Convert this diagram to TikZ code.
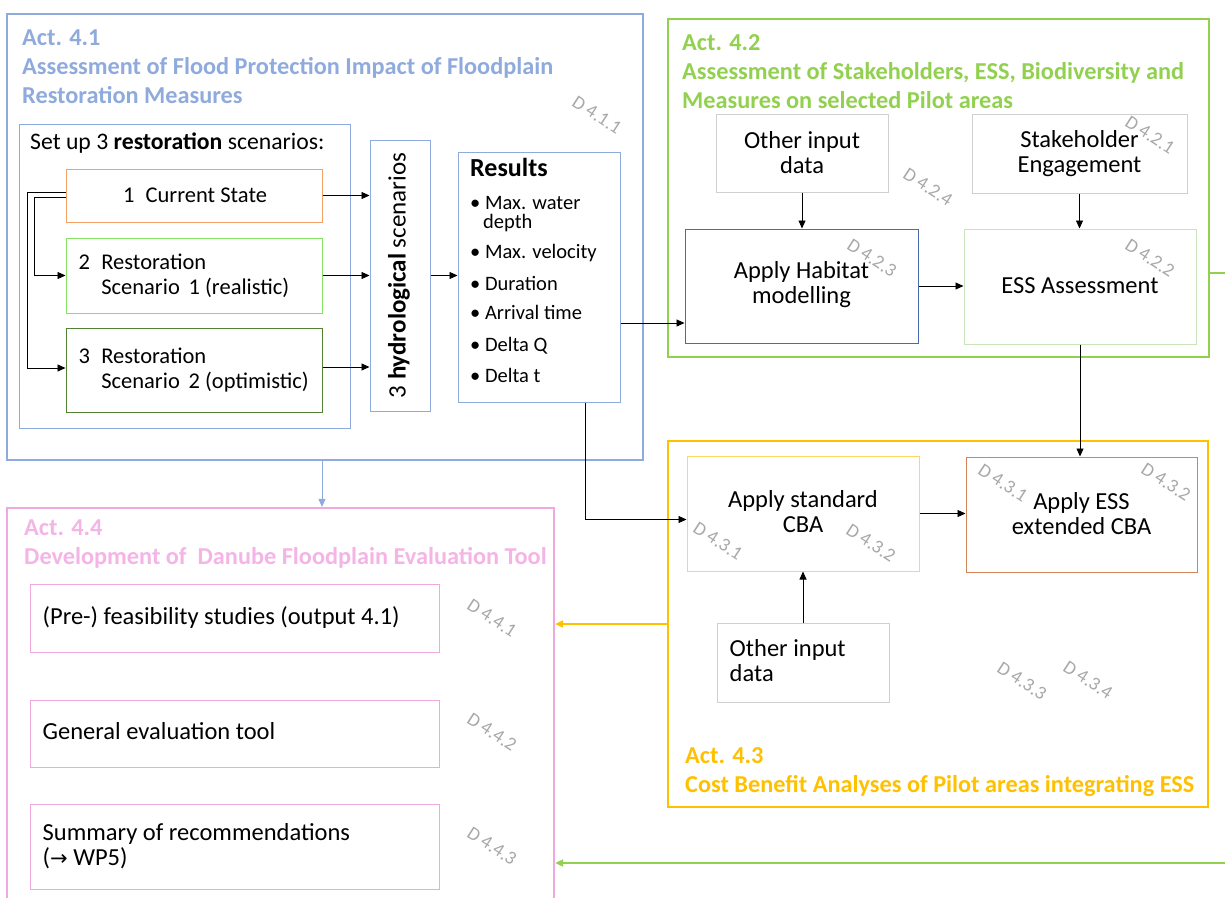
\documentclass[tikz,border=0pt]{standalone}
\usepackage{fontspec}
\setmainfont{Carlito}
\newfontfamily\symfont{DejaVu Sans}
\usetikzlibrary{arrows.meta}
\definecolor{blueA}{HTML}{8FAADC}
\definecolor{greenA}{HTML}{92D050}
\definecolor{orangeA}{HTML}{FFC000}
\definecolor{pinkA}{HTML}{F0A8DE}
\definecolor{pinkT}{HTML}{F4B4E6}
\definecolor{csOr}{HTML}{F4A165}
\definecolor{limeB}{HTML}{86E266}
\definecolor{dkGreen}{HTML}{548235}
\definecolor{habBlue}{HTML}{4A6AAE}
\definecolor{essGreen}{HTML}{C8E4B8}
\definecolor{cbaY}{HTML}{FFD75E}
\definecolor{ecbaO}{HTML}{D4845A}
\definecolor{grayB}{HTML}{D0D0D0}
\definecolor{dGray}{HTML}{A8A8A8}
\tikzset{
  actbox/.style={draw, line width=2.2pt, inner sep=0pt},
  ibox/.style={draw, line width=1pt, inner sep=0pt},
  txt/.style={inner sep=0pt, font=\fontsize{24.5}{25}\selectfont, align=center},
  stxt/.style={inner sep=0pt, font=\fontsize{22.5}{25}\selectfont, align=left},
  ttl/.style={inner sep=0pt, anchor=north west, align=left, font=\fontsize{24.3}{29}\selectfont\bfseries},
  dlab/.style={inner sep=0pt, text=dGray, font=\fontsize{19}{21}\selectfont, rotate=-33},
  itm/.style={inner sep=0pt, anchor=base west, font=\fontsize{20.5}{20}\selectfont},
  arr/.style={-{Triangle[length=8pt,width=7pt]}, line width=0.9pt},
}
\begin{document}
\begin{tikzpicture}[x=1pt,y=-1pt]
\useasboundingbox (0,0) rectangle (1225,897);
% ---------- Act 4.1 ----------
\node[actbox, draw=blueA, minimum width=636pt, minimum height=446pt] (a41) at (325,237) {};
\node[ttl, text=blueA] (t41) at (22,30) {Act. 4.1\\Assessment of Flood Protection Impact of Floodplain\\Restoration Measures};
\node[ibox, draw=blueA, minimum width=331pt, minimum height=304pt] (setb) at (184.5,276) {};
\node[txt, anchor=base west, font=\fontsize{23.7}{25}\selectfont] (sett) at (30,149) {Set up 3 \textbf{restoration} scenarios:};
\node[ibox, draw=csOr, minimum width=256pt, minimum height=53pt] (cs) at (194,195.5) {};
\node[stxt] at ([xshift=1pt]cs) {1\enspace Current State};
\node[ibox, draw=limeB, minimum width=256pt, minimum height=75pt] (s2) at (194,275.5) {};
\node[stxt, anchor=west] at ([xshift=13pt]s2.west) {2\enspace Restoration\\\phantom{2\enspace }Scenario\ \,1 (realistic)};
\node[ibox, draw=dkGreen, minimum width=256pt, minimum height=84pt] (s3) at (194,370) {};
\node[stxt, anchor=west] at ([xshift=13pt]s3.west) {3\enspace Restoration\\\phantom{3\enspace }Scenario\ \,2 (optimistic)};
\node[ibox, draw=blueA, minimum width=60pt, minimum height=271pt] (hyd) at (400,275.5) {};
\node[txt, rotate=90, font=\fontsize{25}{26}\selectfont] at ([xshift=-1pt]hyd) {3 \textbf{hydrological} scenarios};
\node[ibox, draw=blueA, minimum width=162pt, minimum height=250pt] (res) at (539,277) {};
\node[itm, font=\fontsize{26}{27}\selectfont\bfseries] at (470,176) {Results};
\node[itm] at (470,209) {\textbullet\ Max. water};
\node[itm] at (483,228) {depth};
\node[itm] at (470,258) {\textbullet\ Max. velocity};
\node[itm] at (470,290) {\textbullet\ Duration};
\node[itm] at (470,319) {\textbullet\ Arrival time};
\node[itm] at (470,351) {\textbullet\ Delta Q};
\node[itm] at (470,382) {\textbullet\ Delta t};
\node[dlab] at (597,115) {D 4.1.1};
% connectors in 4.1
\draw[arr] ([yshift=3pt]cs.west) -- ++(-38,0) |- ([yshift=2pt]s3.west);
\draw[arr] ([yshift=-2pt]cs.west) -- ++(-31.5,0) |- (s2.west);
\draw[arr] (cs.east) -- (cs.east -| hyd.west);
\draw[arr] (s2.east) -- (s2.east -| hyd.west);
\draw[arr] ([yshift=3pt]s3.east) -- ([yshift=3pt]s3.east -| hyd.west);
\draw[arr] (hyd.east) -- (hyd.east -| res.west);
% ---------- Act 4.2 ----------
\node[actbox, draw=greenA, minimum width=541pt, minimum height=338pt] (a42) at (938.5,188) {};
\node[ttl, text=greenA] (t42) at (682,34) {Act. 4.2\\Assessment of Stakeholders, ESS, Biodiversity and\\Measures on selected Pilot areas};
\node[ibox, draw=grayB, minimum width=172pt, minimum height=78pt] (oid) at (802,153) {};
\node[txt] at (oid) {Other input\\data};
\node[ibox, draw=grayB, minimum width=215pt, minimum height=79pt] (stk) at (1079.5,153.5) {};
\node[txt] at (stk) {Stakeholder\\Engagement};
\node[ibox, draw=habBlue, minimum width=233pt, minimum height=114pt] (hab) at (801.5,286) {};
\node[txt] at ([yshift=1pt]hab) {Apply Habitat\\modelling};
\node[ibox, draw=essGreen, minimum width=232pt, minimum height=115pt] (ess) at (1080,286.5) {};
\node[txt] at ([yshift=1pt]ess) {ESS Assessment};
\node[dlab] at (1150,135) {D 4.2.1};
\node[dlab] at (928,187) {D 4.2.4};
\node[dlab] at (872,258) {D 4.2.3};
\node[dlab] at (1150,258) {D 4.2.2};
\draw[arr] (oid.south) -- (oid.south |- hab.north);
\draw[arr] (stk.south) -- (stk.south |- ess.north);
\draw[arr] (hab.east) -- (hab.east -| ess.west);
\draw[arr] ([yshift=-46pt]res.east) -- ([yshift=-46pt]res.east -| hab.west);
\coordinate (g1) at (1225,273);
\draw[greenA, line width=2pt] (a42.east |- g1) -- (g1);
% ---------- Act 4.3 ----------
\node[actbox, draw=orangeA, minimum width=540pt, minimum height=366pt] (a43) at (938,624) {};
\node[ibox, draw=cbaY, minimum width=232pt, minimum height=115pt] (cba) at (803,513.5) {};
\node[txt] at ([yshift=2pt]cba) {Apply standard\\CBA};
\node[ibox, draw=ecbaO, minimum width=231pt, minimum height=115pt] (ecba) at (1081.5,514.5) {};
\node[txt] at ([yshift=1pt]ecba) {Apply ESS\\extended CBA};
\node[ibox, draw=grayB, minimum width=172pt, minimum height=79pt] (oid2) at (803,662.5) {};
\node[txt, align=left, anchor=west] at ([xshift=13pt,yshift=2pt]oid2.west) {Other input\\data};
\node[ttl, text=orangeA] (t43) at (685,747) {Act. 4.3\\Cost Benefit Analyses of Pilot areas integrating ESS};
\node[dlab] at (718,541) {D 4.3.1};
\node[dlab] at (871,543) {D 4.3.2};
\node[dlab] at (1003,483) {D 4.3.1};
\node[dlab] at (1166,482) {D 4.3.2};
\node[dlab] at (1022,681) {D 4.3.3};
\node[dlab] at (1088,680) {D 4.3.4};
\draw[arr] (ess.south) -- (ess.south |- ecba.north);
\draw[arr] (cba.east) -- (cba.east -| ecba.west);
\draw[arr] (oid2.north) -- (oid2.north |- cba.south);
\draw[arr] ([xshift=46pt]res.south) |- ([yshift=-6pt]cba.west);
% ---------- Act 4.4 ----------
\node[actbox, draw=pinkA, minimum width=547pt, minimum height=400pt] (a44) at (280.5,708) {};
\node[ttl, text=pinkT] (t44) at (24,520) {Act. 4.4\\Development of\ \ Danube Floodplain Evaluation Tool};
\node[ibox, draw=pinkA, minimum width=409pt, minimum height=68pt] (f1) at (234.5,618) {};
\node[txt, anchor=west] at ([xshift=13pt]f1.west) {(Pre-) feasibility studies (output 4.1)};
\node[ibox, draw=pinkA, minimum width=409pt, minimum height=67pt] (f2) at (234.5,733.5) {};
\node[txt, anchor=west] at ([xshift=13pt,yshift=2pt]f2.west) {General evaluation tool};
\node[ibox, draw=pinkA, minimum width=409pt, minimum height=85pt] (f3) at (234.5,846.5) {};
\node[txt, anchor=west, align=left] at ([xshift=13pt]f3.west) {Summary of recommendations\\({\symfont\fontsize{21}{22}\selectfont→} WP5)};
\node[dlab] at (492,618) {D 4.4.1};
\node[dlab] at (492,732) {D 4.4.2};
\node[dlab] at (492,846) {D 4.4.3};
% inter-activity connectors
\draw[arr, draw=blueA, fill=blueA] ([xshift=-3pt]a41.south) -- ([xshift=-3pt]a41.south |- a44.north);
\draw[arr, draw=orangeA, fill=orangeA, line width=1.6pt] (a43.west) -- (a43.west -| a44.east);
\coordinate (g2) at (1225,863);
\draw[arr, draw=greenA, fill=greenA, line width=1.6pt] (g2) -- (g2 -| a44.east);
\end{tikzpicture}
\end{document}
